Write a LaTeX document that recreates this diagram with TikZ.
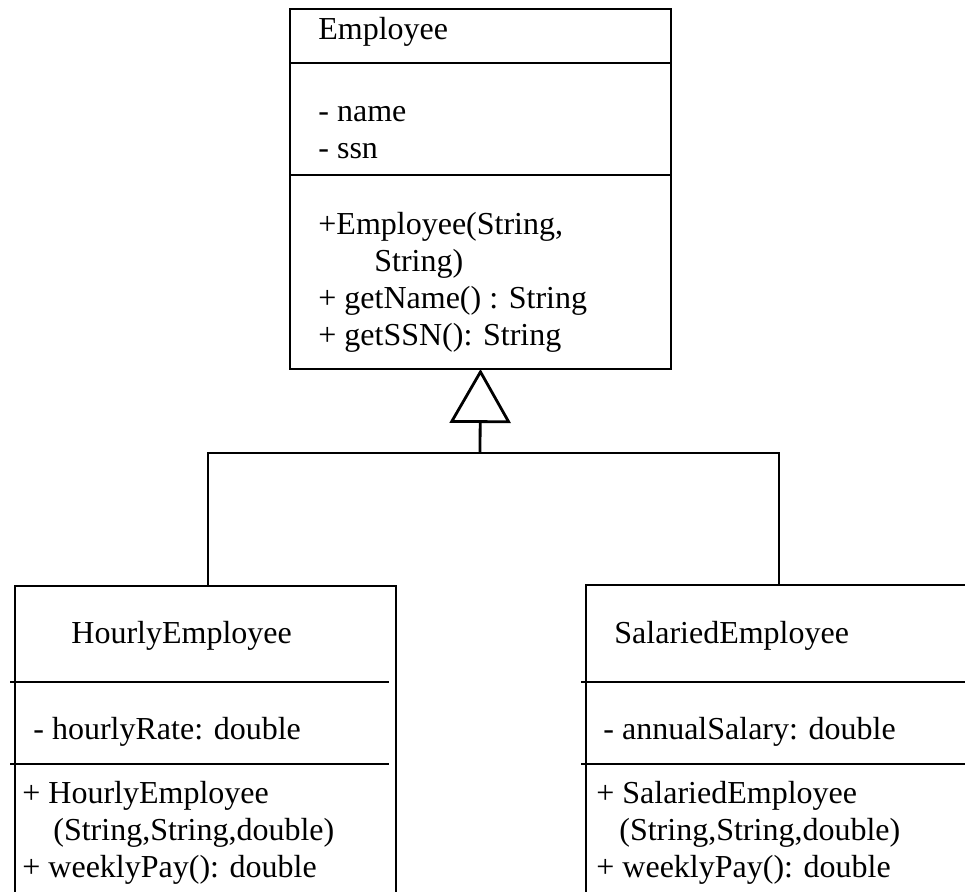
\documentclass[tikz,border=0pt]{standalone}
\usepackage{fontspec}
\setmainfont{Liberation Serif}
\usetikzlibrary{arrows.meta}
\newcommand{\umlsize}{\fontsize{16}{18.5}\selectfont}

\begin{document}
\begin{tikzpicture}[x=0.5pt, y=-0.5pt, line width=1.4pt,
    classbox/.style={draw, anchor=north west, inner sep=0pt, outer sep=0pt},
    member/.style={anchor=north west, inner sep=0pt, align=left, font=\umlsize}]
   \useasboundingbox (0,0) rectangle (965,891);

   \node[classbox, minimum width=190.5pt, minimum height=180pt] (emp) at (290,9) {};
   \node[classbox, minimum width=190.5pt, minimum height=160pt] (hourly) at (15,586) {};
   \node[classbox, minimum width=193pt, minimum height=160pt] (salaried) at (586,585) {};

   \draw (290,63) -- (671,63);
   \draw (290,175) -- (671,175);
   \draw (10,682) -- (389,682);
   \draw (10,764) -- (389,764);
   \draw (581,682) -- (970,682);
   \draw (581,764) -- (970,764);

   \node[member] (empname) at (317,12.1) {\strut Employee};
   \node[member] (empattr) at (317,94.1) {\strut - name\\- ssn};
   \node[member] (empops) at (317,207.1) {\strut +Employee(String,\\\hspace*{28pt}String)\\+ getName() : String\\+ getSSN(): String};

   \node[member] (hourname) at (70,616.1) {\strut HourlyEmployee};
   \node[member] (hourattr) at (32,712.1) {\strut - hourlyRate: double};
   \node[member] (hourops) at (21,776.1) {\strut + HourlyEmployee\\\hspace*{15.5pt}(String,String,double)\\+ weeklyPay(): double};

   \node[member] (salname) at (613,616.1) {\strut SalariedEmployee};
   \node[member] (salattr) at (602,712.1) {\strut - annualSalary: double};
   \node[member] (salops) at (595,776.1) {\strut + SalariedEmployee\\\hspace*{11.5pt}(String,String,double)\\+ weeklyPay(): double};

   \coordinate (fork) at (480,453);
   \draw ([xshift=1.25pt]hourly.north) |- (fork) -| (salaried.north);
   \draw[-{Triangle[open, length=27pt, width=30.5pt]}] (fork) -- (emp.south);
  \end{tikzpicture}
\end{document}
